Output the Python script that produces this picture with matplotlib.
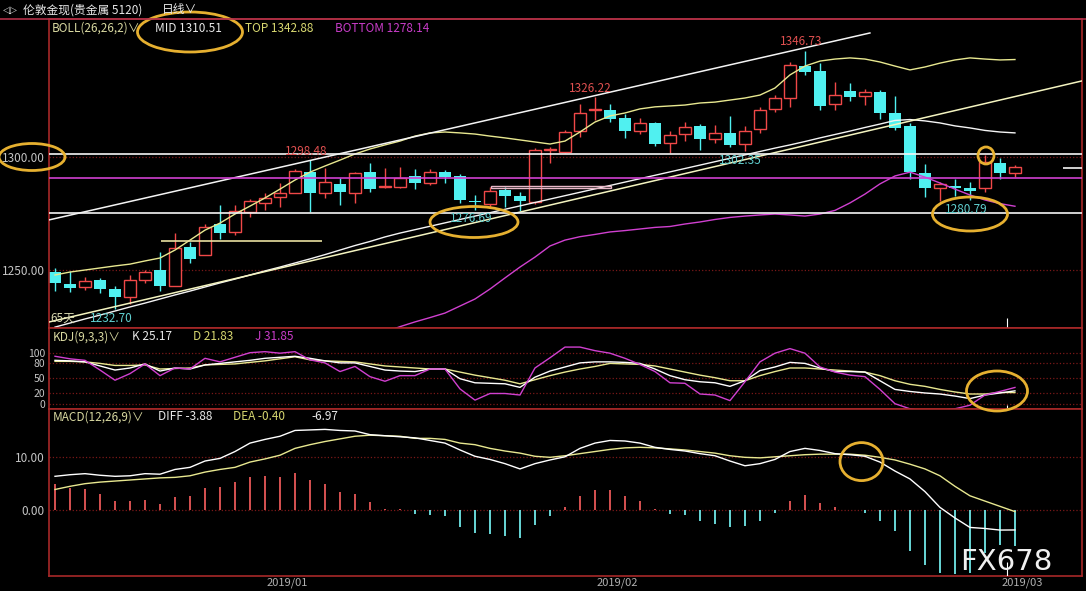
import numpy as np
import matplotlib
matplotlib.use('Agg')
import matplotlib.pyplot as plt
from matplotlib.patches import Ellipse, Rectangle

plt.rcParams['font.family'] = ['Noto Sans CJK SC', 'DejaVu Sans']

W, H = 1086, 591

# ---------------- data (daily candles, 65 days) ----------------
opens = [1249.0, 1243.8, 1242.4, 1245.6, 1241.6, 1238.2, 1245.5, 1250.0, 1243.1, 1260.0,
         1256.6, 1270.3, 1266.6, 1275.7, 1279.7, 1282.1, 1283.8, 1293.4, 1284.1, 1288.0,
         1284.1, 1293.1, 1286.6, 1286.8, 1291.6, 1288.5, 1293.1, 1291.6, 1280.5, 1279.1,
         1285.3, 1282.8, 1280.1, 1302.8, 1302.2, 1311.3, 1320.8, 1320.6, 1317.2, 1311.3,
         1315.0, 1306.2, 1309.9, 1313.5, 1307.7, 1310.3, 1305.6, 1312.2, 1320.9, 1325.8,
         1340.0, 1337.8, 1323.1, 1329.0, 1326.9, 1328.7, 1319.2, 1313.5, 1292.9, 1286.1,
         1287.2, 1286.3, 1286.1, 1297.4, 1292.9]
closes = [1244.1, 1242.2, 1245.0, 1241.5, 1238.2, 1245.5, 1249.3, 1243.1, 1259.6, 1255.0,
          1268.8, 1266.5, 1276.0, 1280.5, 1281.7, 1283.8, 1293.8, 1284.1, 1288.7, 1284.6,
          1292.7, 1285.7, 1287.0, 1290.7, 1288.5, 1293.1, 1291.2, 1280.9, 1279.9, 1284.9,
          1282.7, 1280.6, 1303.0, 1303.2, 1310.8, 1319.1, 1321.2, 1316.6, 1311.3, 1314.7,
          1305.6, 1309.6, 1313.2, 1307.7, 1310.3, 1305.2, 1311.5, 1320.6, 1325.8, 1340.5,
          1337.5, 1322.5, 1327.2, 1326.5, 1328.7, 1319.2, 1312.5, 1293.4, 1286.1, 1288.0,
          1286.1, 1285.0, 1297.8, 1292.9, 1295.6]
highs = [1250.7, 1249.6, 1247.0, 1246.6, 1243.1, 1247.8, 1250.0, 1258.1, 1266.2, 1262.5,
         1270.3, 1278.7, 1278.7, 1281.3, 1283.8, 1288.3, 1294.4, 1298.48, 1295.1, 1290.5,
         1293.4, 1297.1, 1294.9, 1295.3, 1294.4, 1294.4, 1294.1, 1292.4, 1283.1, 1286.8,
         1286.8, 1284.6, 1303.7, 1304.4, 1311.8, 1323.1, 1326.22, 1323.1, 1318.7, 1316.9,
         1315.4, 1311.3, 1315.4, 1314.3, 1314.0, 1318.0, 1313.7, 1322.1, 1327.2, 1341.7,
         1346.73, 1341.5, 1333.1, 1332.4, 1329.7, 1329.4, 1326.8, 1315.0, 1296.8, 1289.0,
         1290.0, 1289.0, 1300.8, 1299.3, 1296.3]
lows = [1240.9, 1240.2, 1241.3, 1239.7, 1232.7, 1234.9, 1244.1, 1240.9, 1243.1, 1253.2,
        1256.6, 1263.7, 1265.4, 1273.3, 1276.5, 1278.0, 1283.8, 1275.7, 1281.6, 1278.7,
        1279.4, 1284.6, 1286.0, 1286.0, 1285.7, 1287.5, 1288.3, 1279.7, 1276.69, 1277.2,
        1277.9, 1276.2, 1279.1, 1297.1, 1301.5, 1308.8, 1316.2, 1315.4, 1308.1, 1310.2,
        1304.9, 1301.5, 1306.9, 1303.0, 1305.9, 1304.4, 1302.35, 1310.3, 1319.9, 1322.1,
        1336.1, 1320.6, 1320.6, 1324.6, 1322.8, 1316.5, 1311.8, 1290.0, 1282.3, 1280.6,
        1282.7, 1280.79, 1284.6, 1290.0, 1291.2]

# BOLL(26,26,2) bands (nan = below the panel)
boll_top = [1247.8, 1249.1, 1250.0, 1250.9, 1251.8, 1252.6, 1254.0, 1255.3, 1258.8, 1263.2,
            1267.6, 1270.7, 1274.7, 1278.2, 1281.8, 1285.7, 1289.7, 1293.2, 1295.9, 1298.5,
            1301.2, 1303.4, 1305.2, 1306.9, 1309.1, 1310.5, 1310.9, 1310.5, 1310.0, 1309.1,
            1308.3, 1307.4, 1306.5, 1305.6, 1306.9, 1310.9, 1315.3, 1318.0, 1319.3, 1321.1,
            1322.0, 1322.4, 1322.8, 1323.7, 1324.1, 1325.0, 1325.9, 1327.2, 1330.3, 1336.1,
            1340.0, 1342.2, 1343.1, 1343.6, 1343.1, 1341.8, 1340.0, 1338.3, 1339.6, 1341.3,
            1342.7, 1343.6, 1343.1, 1342.7, 1342.88]
boll_mid = [1224.8, 1226.6, 1228.4, 1230.1, 1231.9, 1233.7, 1235.4, 1237.2, 1239.0, 1240.7,
            1242.5, 1244.3, 1246.0, 1247.8, 1249.6, 1251.3, 1253.1, 1254.9, 1256.8, 1258.8,
            1260.8, 1262.6, 1264.6, 1266.3, 1267.8, 1269.3, 1270.8, 1272.3, 1273.8, 1275.3,
            1276.8, 1278.3, 1279.8, 1281.3, 1282.8, 1284.3, 1285.8, 1287.3, 1288.8, 1290.3,
            1291.8, 1293.3, 1294.8, 1296.3, 1297.8, 1299.3, 1300.8, 1302.3, 1303.8, 1305.2,
            1306.7, 1308.3, 1309.8, 1311.3, 1312.9, 1314.4, 1316.0, 1316.4, 1315.8, 1314.9,
            1313.6, 1312.7, 1311.6, 1310.9, 1310.51]
boll_bot = [np.nan] * 21 + [
            1220.0, 1222.6, 1225.0, 1227.1, 1229.0, 1231.0, 1234.1, 1237.2, 1241.6,
            1246.5, 1251.3, 1255.7, 1260.6, 1263.2, 1264.7, 1265.7, 1266.8, 1267.4, 1268.1,
            1268.8, 1269.2, 1270.3, 1271.2, 1272.3, 1273.2, 1273.8, 1274.3, 1274.7, 1274.3,
            1273.8, 1274.7, 1276.3, 1279.6, 1283.5, 1288.0, 1291.5, 1293.2, 1291.0, 1288.4,
            1285.7, 1283.1, 1280.9, 1279.3, 1278.14]

# KDJ(9,3,3)
kdj_k = [85, 84, 82, 74, 66, 70, 78, 64, 70, 68, 76, 79, 82, 85, 89, 91, 93, 89, 84, 80,
         80, 73, 66, 64, 63, 68, 68, 49, 41, 40, 39, 32, 52, 64, 72, 80, 82, 82, 81, 79,
         68, 55, 47, 43, 41, 34, 45, 65, 72, 81, 79, 70, 63, 63, 62, 45, 28, 24, 21, 19,
         15, 10, 17, 21, 25.17]
kdj_d = [83, 83, 82, 79, 75, 75, 76, 68, 69, 70, 76, 77, 78, 81, 84, 88, 92, 86, 84, 83,
         82, 78, 74, 72, 70, 68, 68, 62, 56, 51, 46, 39, 47, 55, 62, 68, 73, 79, 78, 77,
         74, 68, 62, 56, 51, 45, 45, 55, 63, 70, 70, 68, 66, 64, 62, 55, 45, 38, 34, 28,
         23, 19, 19, 22, 21.83]
kdj_j = [93, 88, 85, 66, 46, 59, 78, 55, 70, 68, 89, 82, 91, 100, 102, 99, 102, 86, 80, 63,
         73, 53, 44, 55, 55, 68, 68, 29, 7, 20, 20, 17, 70, 90, 111, 111, 104, 99, 89, 77,
         63, 41, 40, 19, 17, 6, 43, 82, 99, 108, 99, 72, 62, 56, 53, 28, 0, -10, -15, -13,
         -10, -3, 17, 24, 31.85]

# MACD(12,26,9)
diff = [6.3, 6.6, 6.8, 6.5, 6.3, 6.4, 6.8, 6.7, 7.6, 8.0, 9.2, 9.7, 11.0, 12.6, 13.3, 13.9,
        15.0, 15.1, 15.2, 15.0, 14.9, 14.2, 14.0, 13.8, 13.6, 13.1, 12.6, 11.3, 10.1, 9.5,
        8.7, 7.7, 8.7, 9.4, 10.0, 11.6, 12.6, 13.1, 13.0, 12.6, 11.8, 11.4, 11.1, 10.6, 10.2,
        9.2, 8.3, 8.7, 9.5, 11.0, 11.6, 11.2, 10.6, 10.4, 10.1, 9.0, 7.3, 5.8, 3.4, 0.4,
        -1.6, -3.4, -3.6, -3.9, -3.88]
dea = [3.8, 4.4, 4.9, 5.2, 5.4, 5.6, 5.8, 6.0, 6.1, 6.4, 7.1, 7.6, 8.0, 9.0, 9.6, 10.3,
       11.6, 12.3, 12.9, 13.4, 13.9, 14.1, 14.0, 13.9, 13.5, 13.5, 13.3, 12.6, 12.3, 11.6,
       11.1, 10.7, 10.1, 9.9, 10.2, 10.6, 11.0, 11.4, 11.7, 11.8, 11.7, 11.5, 11.3, 11.0, 10.7,
       10.2, 9.9, 9.8, 10.0, 10.2, 10.4, 10.5, 10.5, 10.5, 10.3, 9.9, 9.4, 8.6, 7.7, 6.4,
       4.4, 2.6, 1.6, 0.6, -0.40]
macd_hist = [4.8, 4.1, 3.9, 3.0, 1.7, 1.7, 1.8, 1.0, 2.4, 2.6, 4.1, 4.3, 5.3, 6.1, 6.3, 6.1,
             6.9, 5.6, 4.9, 3.3, 3.0, 1.5, 0.1, 0.05, -0.8, -1.0, -1.3, -3.4, -4.4, -4.7,
             -5.0, -5.5, -2.9, -1.3, 0.5, 2.5, 3.7, 3.7, 2.5, 1.7, 0.05, -0.9, -1.1, -2.2, -2.7,
             -3.4, -3.2, -2.1, -0.7, 1.7, 2.7, 1.2, 0.5, -0.1, -0.6, -2.1, -4.1, -7.9, -10.5,
             -12.0, -12.3, -12.0, -8.2, -6.7, -6.97]

# drawn-in lines (candle index, price)
trend_up_x, trend_up_y = [-0.4, 54.33], [1272.1, 1354.6]
trend_lo_x, trend_lo_y = [-0.4, 68.73], [1227.05, 1333.85]
white_levels = [1301.0, 1275.0]
magenta_level = 1290.5
yellow_seg = (1263.0, 7.1, 17.8)
pink_box = (29.1, 37.1, 1286.1, 1287.1)
short_seg = (1295.1, 67.2, 68.5)

high_marks = [(17, '1298.48'), (36, '1326.22'), (50, '1346.73')]
low_marks = [(4, '1232.70'), (28, '1276.69'), (46, '1302.35'), (61, '1280.79')]

date_labels = ['2019/01', '2019/02', '2019/03']
date_pos = [15.5, 37.5, 64.5]
cursor_idx = 63.5

# ---------------- style ----------------
RED = '#f04848'
CYAN = '#50f0f0'
MAG = '#d040d0'
YEL = '#e8e890'
FRAME = '#a82828'
GRID = '#7a1818'
TXT = '#c4c4c4'
GOLD = '#e6b030'

fig = plt.figure(figsize=(W / 100, H / 100), dpi=100, facecolor='black')


def px_box(x0, y0, x1, y1):
    return [x0 / W, 1 - y1 / H, (x1 - x0) / W, (y1 - y0) / H]


ax = fig.add_axes(px_box(49, 19, 1082, 327.7))
ax_kdj = fig.add_axes(px_box(49, 327.7, 1082, 409))
ax_macd = fig.add_axes(px_box(49, 409, 1082, 575.6))

xlo, xhi = -0.4, 68.47
for a in (ax, ax_kdj, ax_macd):
    a.set_facecolor('black')
    for s in a.spines.values():
        s.set_color(FRAME)
        s.set_linewidth(1.2)
    a.set_xlim(xlo, xhi)
    a.set_xticks([])
    a.tick_params(axis='both', length=0, colors=TXT, labelsize=8.5, pad=3)

idx = np.arange(len(opens))
o = np.array(opens)
c = np.array(closes)
h = np.array(highs)
l = np.array(lows)

# ---------------- main panel ----------------
ax.set_ylim(1224.54, 1360.77)
ax.set_yticks([1250, 1300], ['1250.00', '1300.00'])
for lv in [1250, 1300]:
    ax.axhline(lv, color=GRID, ls=':', lw=0.9, zorder=0.5)

up = c >= o
b_lo = np.minimum(o, c)
b_hi = np.maximum(o, c)
b_h = np.maximum(b_hi - b_lo, 0.35)
ax.vlines(idx[up], b_hi[up], h[up], color=RED, lw=1, zorder=2)
ax.vlines(idx[up], l[up], b_lo[up], color=RED, lw=1, zorder=2)
ax.bar(idx[up], b_h[up], 0.82, bottom=b_lo[up], facecolor='black', edgecolor=RED, lw=1, zorder=2)
ax.vlines(idx[~up], l[~up], h[~up], color=CYAN, lw=1, zorder=2)
ax.bar(idx[~up], b_h[~up], 0.82, bottom=b_lo[~up], color=CYAN, lw=0, zorder=2)

ax.plot(idx, boll_top, color=YEL, lw=1, zorder=3)
ax.plot(idx, boll_mid, color='#f4f4f4', lw=1, zorder=3)
ax.plot(idx, boll_bot, color=MAG, lw=1, zorder=3)
ax.plot(trend_up_x, trend_up_y, color='#f4f4f4', lw=1.1, zorder=3)
ax.plot(trend_lo_x, trend_lo_y, color='#f4f4c0', lw=1.1, zorder=3)
for lv in white_levels:
    ax.axhline(lv, color='#f4f4f4', lw=1.2, zorder=3)
ax.axhline(magenta_level, color=MAG, lw=1.2, zorder=3)
ax.hlines(yellow_seg[0], yellow_seg[1], yellow_seg[2], color='#e8e0a0', lw=1.2, zorder=3)
ax.hlines(short_seg[0], short_seg[1], short_seg[2], color='#f4f4f4', lw=1.2, zorder=3)
ax.add_patch(Rectangle((pink_box[0], pink_box[2]), pink_box[1] - pink_box[0],
                       pink_box[3] - pink_box[2], fill=False, ec='#e8b8c8', lw=1, zorder=3))
ax.vlines(cursor_idx, 1224.54, 1229.0, color='white', lw=0.8, zorder=3)

for i, s in high_marks:
    ax.annotate(s, (i, highs[i]), xytext=(-3, 6.5), textcoords='offset points',
                ha='center', va='center', color='#e05050', fontsize=8.5, zorder=5)
for i, s in low_marks:
    ax.annotate(s, (i, lows[i]), xytext=(-3, -6.5), textcoords='offset points',
                ha='center', va='center', color='#60d0d0', fontsize=8.5, zorder=5)

# ---------------- KDJ panel ----------------
ax_kdj.set_ylim(-10.4, 149.0)
kdj_levels = [0, 20, 50, 80, 100]
ax_kdj.set_yticks(kdj_levels, [str(v) for v in kdj_levels])
ax_kdj.tick_params(axis='y', labelsize=7.5, pad=3)
for lv in kdj_levels:
    ax_kdj.axhline(lv, color=GRID, ls=':', lw=0.9, zorder=0.5)
ax_kdj.plot(idx, kdj_d, color=YEL, lw=1, zorder=3)
ax_kdj.plot(idx, kdj_k, color='white', lw=1, zorder=3)
ax_kdj.plot(idx, kdj_j, color=MAG, lw=1, zorder=3)
ax_kdj.vlines(cursor_idx, -10.4, -3, color='white', lw=0.8, zorder=3)

# ---------------- MACD panel ----------------
ax_macd.set_ylim(-12.54, 19.07)
ax_macd.set_yticks([0, 10], ['0.00', '10.00'])
for lv in [0, 10]:
    ax_macd.axhline(lv, color=GRID, ls=':', lw=0.9, zorder=0.5)
hist = np.array(macd_hist)
ax_macd.vlines(idx[hist > 0], 0, hist[hist > 0], color='#e85858', lw=1.3, zorder=2)
ax_macd.vlines(idx[hist <= 0], 0, hist[hist <= 0], color='#70e8e8', lw=1.3, zorder=2)
ax_macd.plot(idx, dea, color=YEL, lw=1, zorder=3)
ax_macd.plot(idx, diff, color='white', lw=1, zorder=3)
ax_macd.vlines(cursor_idx, -12.54, -10.0, color='white', lw=0.8, zorder=3)
ax_macd.set_xticks(date_pos, date_labels)
ax_macd.tick_params(axis='x', length=0, pad=1.2, colors='#b0b0b0', labelsize=8)

# ---------------- overlay: headers, marks ----------------
ov = fig.add_axes([0, 0, 1, 1], zorder=10)
ov.set_xlim(0, W)
ov.set_ylim(H, 0)
ov.axis('off')
ov.patch.set_alpha(0)

ov.plot([0, W], [19, 19], color='#b03048', lw=1.2)
ov.text(3, 10, '◁▷', color='#d0d0d0', fontsize=7, va='center', family=['DejaVu Sans'])
ov.text(23, 10, '伦敦金现(贵金属 5120)', color='#e8e8e8', fontsize=8.5, va='center')
ov.text(162, 10, '日线∨', color='#e8e8e8', fontsize=8.5, va='center')

hdr = [
    (28, [(52, 'BOLL(26,26,2)∨', '#d8d8a0'), (155, 'MID 1310.51', '#e8e8e8'),
          (245, 'TOP 1342.88', '#d8d870'), (335, 'BOTTOM 1278.14', '#c83cc8')]),
    (337, [(53, 'KDJ(9,3,3)∨', '#d8d8a0'), (132, 'K 25.17', '#e8e8e8'),
           (193, 'D 21.83', '#d8d870'), (255, 'J 31.85', '#c83cc8')]),
    (417, [(53, 'MACD(12,26,9)∨', '#d8d8a0'), (158, 'DIFF -3.88', '#e8e8e8'),
           (233, 'DEA -0.40', '#d8d870'), (311, '-6.97', '#e8e8e8')]),
]
for yy, items in hdr:
    for xx, s, col in items:
        ov.text(xx, yy, s, color=col, fontsize=8.5, va='center')

ov.text(50, 318, '65天', color='#d8d8b0', fontsize=8.5, va='center')

circles = [(190, 32, 105, 40), (32, 157, 66, 27), (474, 222, 88, 31),
           (970, 214, 75, 34), (986, 155.5, 16, 17), (997, 391, 61, 40),
           (861.5, 461.6, 43, 38)]
for cx, cy, ew, eh in circles:
    ov.add_patch(Ellipse((cx, cy), ew, eh, fill=False, ec=GOLD, lw=2))

ov.text(1006, 562, 'FX678', color='#f0f0f0', fontsize=21, ha='center', va='center',
        family=['DejaVu Sans'])

fig.savefig('out.png', dpi=100, facecolor='black')
